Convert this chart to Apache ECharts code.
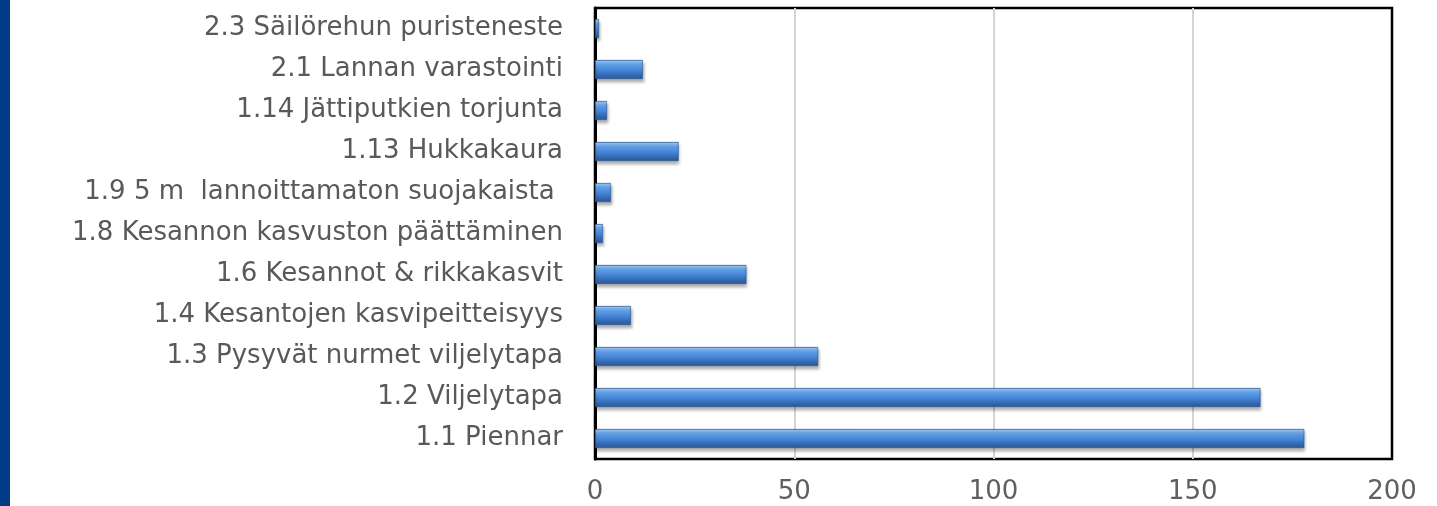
<!DOCTYPE html>
<html>
<head>
<meta charset="utf-8">
<script src="https://cdn.jsdelivr.net/npm/echarts@6/dist/echarts.min.js"></script>
<style>
html,body{margin:0;padding:0;background:#fff;}
#chart{width:1437px;height:506px;}
</style>
</head>
<body>
<div id="chart"></div>
<script>
const categories = [
  "1.1 Piennar",
  "1.2 Viljelytapa",
  "1.3 Pysyvät nurmet viljelytapa",
  "1.4 Kesantojen kasvipeitteisyys",
  "1.6 Kesannot & rikkakasvit",
  "1.8 Kesannon kasvuston päättäminen",
  "1.9 5 m  lannoittamaton suojakaista ",
  "1.13 Hukkakaura",
  "1.14 Jättiputkien torjunta",
  "2.1 Lannan varastointi",
  "2.3 Säilörehun puristeneste"
];
const values = [178, 167, 56, 9, 38, 2, 4, 21, 3, 12, 1];
const xTicks = [0, 50, 100, 150, 200];

const chart = echarts.init(document.getElementById('chart'), null, {renderer: 'canvas'});
const font = "'DejaVu Sans', sans-serif";
chart.setOption({
  animation: false,
  backgroundColor: '#ffffff',
  graphic: [{
    type: 'rect', left: 0, top: 0, z: 10,
    shape: {width: 10, height: 506},
    style: {fill: '#013a85'}
  }],
  grid: {
    left: 595, right: 45, top: 8, bottom: 47,
    outerBoundsMode: 'none', containLabel: false,
    show: true, borderColor: '#000', borderWidth: 2.5, backgroundColor: 'transparent'
  },
  xAxis: {
    type: 'value', min: xTicks[0], max: xTicks[xTicks.length - 1], interval: 50,
    axisLine: {show: false},
    axisTick: {show: false},
    splitLine: {show: true, showMinLine: false, showMaxLine: false, lineStyle: {color: '#d4d4d4', width: 2}},
    axisLabel: {color: '#5f5f5f', fontSize: 26, fontFamily: font, margin: 20}
  },
  yAxis: {
    type: 'category', data: categories,
    axisLine: {show: true, lineStyle: {color: '#000', width: 3}},
    axisTick: {show: false},
    axisLabel: {color: '#595959', fontSize: 26, fontFamily: font, margin: 32}
  },
  series: [{
    type: 'bar', data: values, barWidth: 19,
    itemStyle: {
      color: new echarts.graphic.LinearGradient(0, 0, 0, 1, [
        {offset: 0, color: '#4a7fc4'},
        {offset: 0.08, color: '#8cc0f5'},
        {offset: 0.3, color: '#5a9ae6'},
        {offset: 0.55, color: '#4384d6'},
        {offset: 0.8, color: '#3468b0'},
        {offset: 1, color: '#2b5792'}
      ]),
      borderColor: '#2a5590', borderWidth: 0.6,
      shadowColor: 'rgba(0,0,0,0.3)', shadowBlur: 3, shadowOffsetX: 1, shadowOffsetY: 3
    }
  }]
});
</script>
</body>
</html>
